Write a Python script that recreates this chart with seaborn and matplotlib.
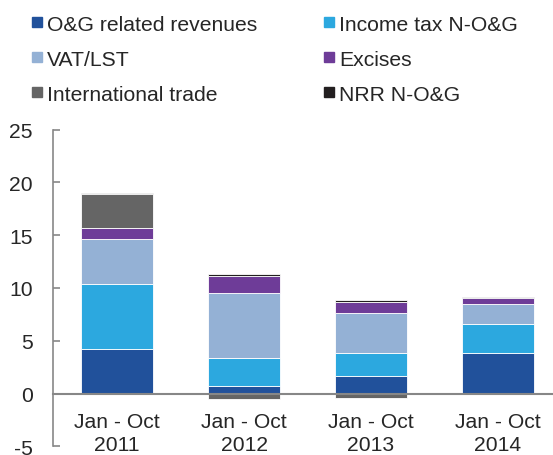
import numpy as np
import pandas as pd
import matplotlib
matplotlib.use("Agg")
import matplotlib.pyplot as plt
from matplotlib.lines import Line2D
import seaborn as sns

periods = ["Jan - Oct\n2011", "Jan - Oct\n2012", "Jan - Oct\n2013", "Jan - Oct\n2014"]
series_names = ["O&G related revenues", "Income tax N-O&G", "VAT/LST",
                "Excises", "International trade", "NRR N-O&G"]
og_related = [4.2, 0.7, 1.7, 3.85]
income_tax = [6.15, 2.68, 2.17, 2.7]
vat_lst = [4.3, 6.15, 3.76, 1.92]
excises = [1.0, 1.64, 1.0, 0.57]
intl_trade = [3.25, -0.48, -0.4, 0.0]
nrr = [0.1, 0.16, 0.25, 0.13]
colors = ["#21519B", "#2CA8DF", "#94B1D5", "#6E3C98", "#656565", "#231F20"]
y_ticks = [-5, 0, 5, 10, 15, 20, 25]

series = [og_related, income_tax, vat_lst, excises, intl_trade, nrr]

sns.set_style("white")
plt.rcParams["font.family"] = ["Liberation Sans", "DejaVu Sans"]
FS = 15.2

fig = plt.figure(figsize=(5.53, 4.56), dpi=100)
ax = fig.add_axes([0.096, 0.019, 0.904, 0.6945])

pos_base = np.zeros(len(periods))
neg_base = np.zeros(len(periods))
for name, vals, col in zip(series_names, series, colors):
    v = np.array(vals, dtype=float)
    bottoms = np.where(v >= 0, pos_base, neg_base)
    df = pd.DataFrame({"period": periods, "value": v})
    sns.barplot(data=df, x="period", y="value", bottom=bottoms, color=col,
                saturation=1, width=0.567, errorbar=None, ax=ax,
                edgecolor="white", linewidth=0.6)
    pos_base = pos_base + np.where(v >= 0, v, 0)
    neg_base = neg_base + np.where(v < 0, v, 0)

ax.set_ylim(-5, 25)
ax.set_xlim(-0.504, 3.433)
ax.set_yticks(y_ticks)
ax.set_yticklabels([str(t) for t in y_ticks])
ax.set_xlabel("")
ax.set_ylabel("")
for s in ["top", "right"]:
    ax.spines[s].set_visible(False)
ax.spines["left"].set_color("#878787")
ax.spines["left"].set_linewidth(1.2)
ax.spines["bottom"].set_position(("data", 0))
ax.spines["bottom"].set_color("#878787")
ax.spines["bottom"].set_linewidth(1.5)
ax.tick_params(axis="y", direction="in", length=5, width=1.2, color="#878787",
               labelsize=FS, pad=14.5, left=True)
ax.tick_params(axis="x", length=0, labelsize=FS, pad=13.5)
for lbl in ax.get_xticklabels():
    lbl.set_linespacing(1.22)

order = [0, 2, 4, 1, 3, 5]
handles = [Line2D([], [], linestyle="none", marker="s", markersize=7.3,
                  markerfacecolor=colors[i], markeredgecolor=colors[i]) for i in order]
labels = [series_names[i] for i in order]
fig.legend(handles, labels, loc="upper left", bbox_to_anchor=(0.0568, 0.966),
           ncol=2, frameon=False, fontsize=FS, borderpad=0, borderaxespad=0,
           handlelength=0.5, handletextpad=0.23, columnspacing=3.17,
           labelspacing=0.76)

fig.savefig("out.png", dpi=100)
